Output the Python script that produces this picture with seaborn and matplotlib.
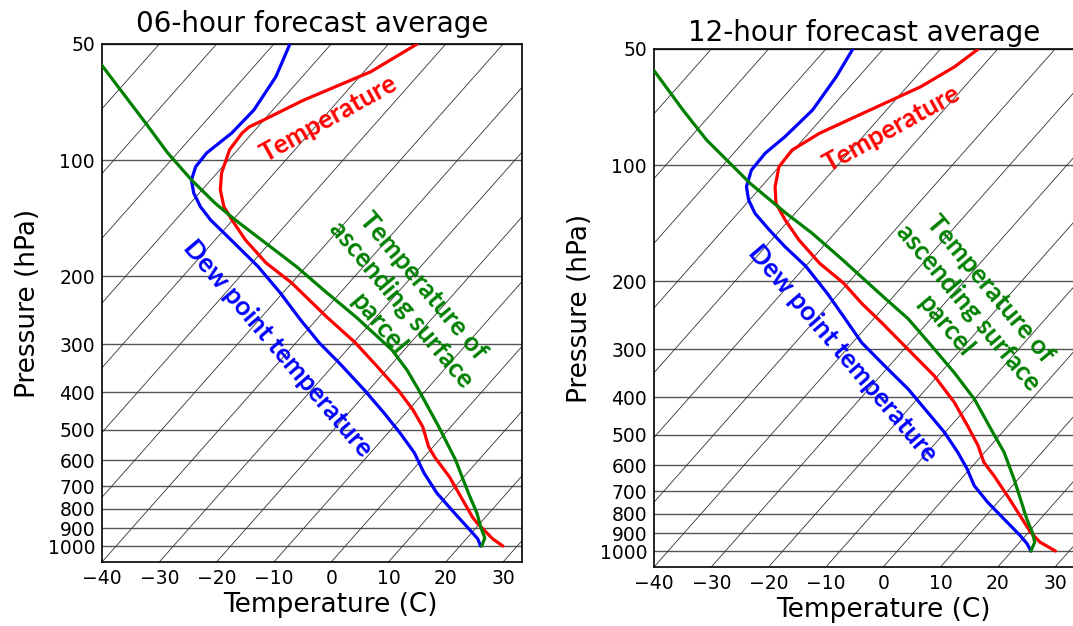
import numpy as np
import pandas as pd
import matplotlib
matplotlib.use("Agg")
import matplotlib.pyplot as plt
from matplotlib.ticker import FixedLocator, FixedFormatter, NullLocator
import seaborn as sns

# ---------------- data (pressure hPa, temperature degC) ----------------
# 06-hour forecast average
p_temp_06 = [1000, 958, 895, 871, 843, 755, 662, 590, 553, 491, 444, 394, 343, 297,
             255, 240, 208, 184.5, 161, 143, 132, 119.5, 108, 94, 85, 82, 79, 70, 59, 50]
t_temp_06 = [27.5, 24.6, 20.9, 19.4, 17.8, 13.1, 7.5, 2.0, -0.8, -4.9, -9.2, -14.9, -22.1, -29.7,
             -38.6, -42.0, -50.0, -57.6, -64.7, -70.1, -73.6, -76.8, -79.2, -81.4, -81.8, -81.5,
             -80.2, -76.2, -68.8, -65.0]

p_dew_06 = [1000, 958, 911, 822, 729, 646, 574, 509.5, 452, 394, 335, 297.6, 259.6, 221,
            189, 161, 142.8, 132, 121.6, 112.5, 104, 95.8, 85, 74.1, 60.8, 50]
t_dew_06 = [23.6, 22.0, 19.4, 14.0, 7.8, 2.4, -2.3, -7.9, -13.8, -20.8, -29.4, -35.9, -42.7, -50.4,
            -58.3, -67.2, -73.9, -77.7, -81.0, -83.4, -84.7, -84.9, -83.6, -83.3, -84.6, -87.2]

p_parcel_06 = [1000, 953, 893, 822, 729, 597.6, 491, 394, 350, 310, 255, 217.5, 189, 164, 142.8,
               129, 112.5, 95.8, 80.1, 56.7, 50]
t_parcel_06 = [23.8, 23.1, 20.7, 17.9, 13.3, 5.9, -2.1, -11.3, -16.4, -22.2, -33.5, -43.2, -51.6, -60.7,
               -69.6, -75.8, -83.4, -91.7, -100.2, -116.8, -123.0]

# 12-hour forecast average
p_temp_12 = [1000, 948, 893, 808.7, 718, 637.5, 589, 533, 473.5, 412, 351.6, 300, 256, 228,
             202, 179.6, 156.3, 138.7, 125.5, 113.7, 101, 91.4, 82.7, 72.0, 62.6, 55.6, 50]
t_temp_12 = [27.6, 23.5, 20.3, 15.9, 10.6, 5.2, 1.4, -2.2, -7.1, -13.0, -20.6, -29.3, -38.0, -44.5,
             -50.8, -58.0, -65.2, -70.7, -74.9, -77.6, -80.0, -80.3, -78.1, -72.9, -67.6, -64.8, -63.4]

p_dew_12 = [1000, 957, 911, 825, 747, 676.6, 612.7, 554.8, 492.6, 437.3, 380.6, 331.3, 288.4, 250,
            215, 183, 162.7, 147, 133.3, 123, 113.7, 103, 93.2, 84.4, 72.0, 59.0, 50]
t_dew_12 = [23.3, 21.5, 19.0, 13.6, 8.2, 3.3, -0.5, -4.7, -10.1, -16.1, -23.1, -30.8, -38.4, -45.0,
            -52.0, -59.9, -66.6, -72.0, -77.0, -80.2, -82.6, -84.3, -84.5, -83.6, -82.9, -83.9, -85.3]

p_parcel_12 = [1000, 948, 893, 825, 732, 650, 555, 483, 404, 345, 294, 250, 222, 202,
               176, 150, 133, 111.6, 86, 72, 56.7, 50]
t_parcel_12 = [23.3, 22.6, 20.6, 17.6, 13.4, 9.2, 3.4, -2.5, -10.0, -17.6, -25.7, -34.0, -41.0, -46.5,
               -54.5, -64.0, -71.7, -82.4, -96.8, -105.5, -116.8, -123.0]

titles = ["06-hour forecast average", "12-hour forecast average"]
x_ticks = [-40, -30, -20, -10, 0, 10, 20, 30]
p_ticks = [50, 100, 200, 300, 400, 500, 600, 700, 800, 900, 1000]
isotherms = list(range(-160, 50, 10))
label_temp = "Temperature"
label_dew = "Dew point temperature"
label_parcel = "Temperature of\nascending surface\nparcel"

# ---------------- skew-T geometry ----------------
P_BOT, P_TOP = 1100.0, 50.0
X_MIN, X_MAX = -40.0, 33.3
SKEW = 80.0 / np.log10(P_BOT / P_TOP)   # degC shift per decade of pressure


def skew_x(t, p):
    return np.asarray(t, dtype=float) + SKEW * np.log10(P_BOT / np.asarray(p, dtype=float))


sns.set_style("white")
plt.rcParams["font.family"] = ["DejaVu Sans"]
plt.rcParams["text.color"] = "black"
plt.rcParams["axes.labelcolor"] = "black"
plt.rcParams["xtick.color"] = "black"
plt.rcParams["ytick.color"] = "black"

fig = plt.figure(figsize=(10.73, 6.26), dpi=100)
W, H = 1073.0, 626.0
axes_px = [(102, 44), (654, 49)]   # left, top of each axes in pixels
AW, AH = 420.0, 518.0
title_pad = [9, 6]
xlabel_x = [0.543, 0.545]

panels = [
    (p_temp_06, t_temp_06, p_dew_06, t_dew_06, p_parcel_06, t_parcel_06),
    (p_temp_12, t_temp_12, p_dew_12, t_dew_12, p_parcel_12, t_parcel_12),
]
ann = [
    dict(temp=(0.540, 0.857), dew=(0.418, 0.412), parcel=(0.712, 0.497)),
    dict(temp=(0.566, 0.847), dew=(0.449, 0.412), parcel=(0.748, 0.501)),
]

for i, (pt, tt, pd_, td, pp, tp) in enumerate(panels):
    left, top = axes_px[i]
    ax = fig.add_axes([left / W, (H - top - AH) / H, AW / W, AH / H])
    ax.set_yscale("log")

    # skewed isotherms
    for T in isotherms:
        pl = np.array([P_BOT, P_TOP])
        ax.plot(skew_x([T, T], pl), pl, color="#333333", lw=0.6, zorder=1)

    for p_, t_, col in [(pt, tt, "#ff0000"), (pd_, td, "#0000ff"), (pp, tp, "#008000")]:
        df = pd.DataFrame({"x": skew_x(t_, p_), "p": p_})
        sns.lineplot(data=df, x="x", y="p", sort=False, estimator=None,
                     color=col, lw=2.3, ax=ax, zorder=3)

    ax.set_xlim(X_MIN, X_MAX)
    ax.set_ylim(P_BOT, P_TOP)
    ax.yaxis.set_major_locator(FixedLocator(p_ticks))
    ax.yaxis.set_major_formatter(FixedFormatter([str(v) for v in p_ticks]))
    ax.yaxis.set_minor_locator(NullLocator())
    ax.set_xticks(x_ticks)
    ax.set_xticklabels([f"{v}".replace("-", "\u2212") for v in x_ticks])
    ax.grid(axis="y", color="#555555", lw=1.0, zorder=0)
    ax.grid(axis="x", visible=False)
    ax.tick_params(axis="both", labelsize=13.5, direction="in", length=0, pad=5, colors="black")
    for s in ax.spines.values():
        s.set_color("black")
        s.set_linewidth(1.2)
    ax.set_xlabel("Temperature (C)", fontsize=19, labelpad=3, color="black", x=xlabel_x[i])
    ax.set_ylabel("Pressure (hPa)", fontsize=19, labelpad=5, color="black")
    ax.set_title(titles[i], fontsize=20, pad=title_pad[i], color="black")

    a = ann[i]
    ax.text(*a["temp"], label_temp, transform=ax.transAxes, rotation=29,
            rotation_mode="anchor", ha="center", va="center", color="#ff0000",
            fontsize=19, fontweight="bold", family="Lato", zorder=4)
    ax.text(*a["dew"], label_dew, transform=ax.transAxes, rotation=-49.5,
            rotation_mode="anchor", ha="center", va="center", color="#0000ff",
            fontsize=19, fontweight="bold", family="Lato", zorder=4)
    ax.text(*a["parcel"], label_parcel, transform=ax.transAxes, rotation=-50,
            rotation_mode="anchor", ha="center", va="center", color="#008000",
            fontsize=19, fontweight="bold", family="Lato", multialignment="center",
            linespacing=1.25, zorder=4)

fig.savefig("out.png", dpi=100)
